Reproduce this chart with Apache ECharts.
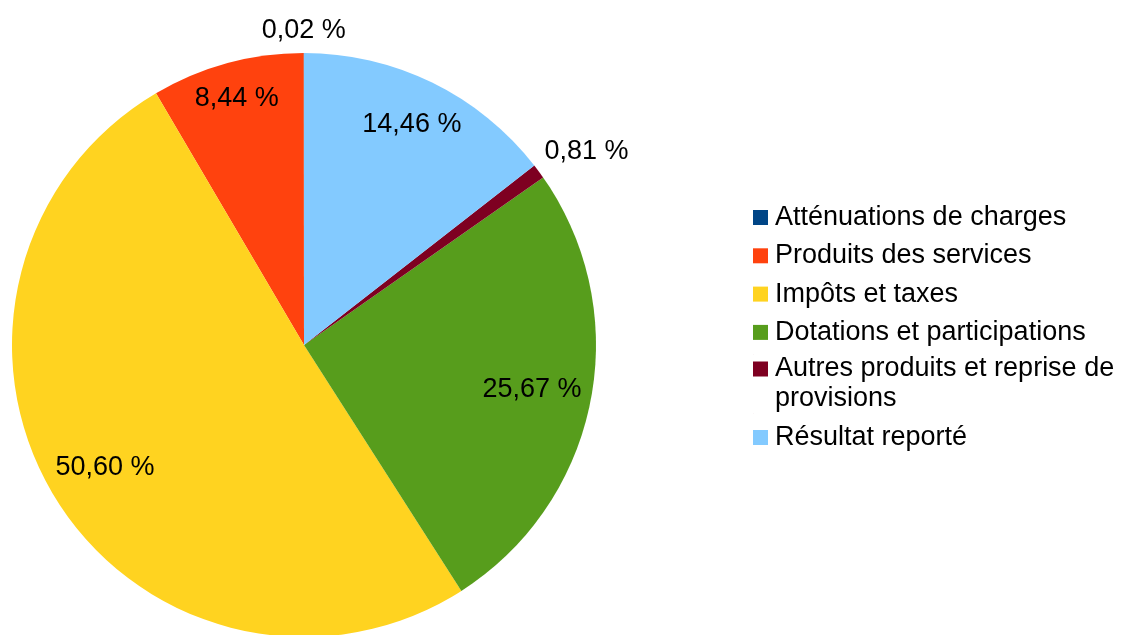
<!DOCTYPE html>
<html>
<head>
<meta charset="utf-8">
<script src="https://cdn.jsdelivr.net/npm/echarts@6/dist/echarts.min.js"></script>
<style>
html,body{margin:0;padding:0;background:#fff;}
#chart{width:1121px;height:635px;}
</style>
</head>
<body>
<div id="chart"></div>
<script>
const categories = [
  'Atténuations de charges',
  'Produits des services',
  'Impôts et taxes',
  'Dotations et participations',
  'Autres produits et reprise de provisions',
  'Résultat reporté'
];
const values = [0.02, 8.44, 50.60, 25.67, 0.81, 14.46];
const colors = ['#004586', '#ff420e', '#ffd320', '#579d1c', '#7e0021', '#83caff'];

const CX = 304, CY = 345, R = 292;
const D_IN = 284;    // farthest corner of an inside label from the centre
const D_OUT = 299;   // anchor distance of outside labels
const FONT = 'Liberation Sans, Arial, sans-serif';
const SMALL = 1;

const chart = echarts.init(document.getElementById('chart'), null, {renderer: 'canvas'});
const data = categories.map((n, i) => ({name: n, value: values[i]}));
const fmt = v => v.toFixed(2).replace('.', ',') + ' %';
const transparent = {color: 'rgba(0,0,0,0)'};
const labelText = {fontFamily: FONT, fontSize: 27, color: '#000', lineHeight: 31};

function dirOf(r) {
  const lx = r.x + r.width / 2, ly = r.y + r.height / 2;
  const dx = lx - CX, dy = ly - CY;
  const len = Math.sqrt(dx * dx + dy * dy) || 1;
  return [dx / len, dy / len];
}

const SQUARE = 'path://M0,0h1v1h-1z';
const SQUARE_TOP = 'path://M0,0h0.01v0.01h-0.01z M0,0.5h1v1h-1z M0,3.99h0.01v0.01h-0.01z';
const legendText = {fontFamily: FONT, fontSize: 27, color: '#000', lineHeight: 30, padding: [0, 0, 0, 2]};
const legendBase = {
  orient: 'vertical', left: 748, itemWidth: 15, itemHeight: 30, itemGap: 8.3,
  symbolKeepAspect: true, selectedMode: false,
  formatter: n => n.replace('reprise de ', 'reprise de\n'),
  textStyle: legendText
};

const option = {
  animation: false,
  backgroundColor: '#ffffff',
  color: colors,
  legend: [
    Object.assign({}, legendBase, {top: 197.5, icon: SQUARE, data: categories.slice(0, 4)}),
    Object.assign({}, legendBase, {top: 349, itemHeight: 60, icon: SQUARE_TOP, data: categories.slice(4, 5)}),
    Object.assign({}, legendBase, {top: 417.5, icon: SQUARE, data: categories.slice(5)})
  ],
  series: [
    {
      type: 'pie',
      center: [CX, CY],
      radius: R,
      startAngle: 90,
      clockwise: false,
      silent: true,
      label: {show: false},
      labelLine: {show: false},
      data: data.map((d, i) => ({...d, itemStyle: {color: colors[i]}}))
    },
    {
      type: 'pie',
      center: [CX, CY],
      radius: [150, R],
      startAngle: 90,
      clockwise: false,
      silent: true,
      avoidLabelOverlap: false,
      itemStyle: transparent,
      label: Object.assign({show: true, position: 'inside',
        formatter: p => p.value >= SMALL ? fmt(p.value) : ''}, labelText),
      labelLine: {show: false},
      labelLayout: function (params) {
        const r = params.labelRect;
        const [ux, uy] = dirOf(r);
        const cx = (ux >= 0 ? 1 : -1) * r.width / 2;
        const cy = (uy >= 0 ? 1 : -1) * r.height / 2;
        const b = ux * cx + uy * cy;
        const c = cx * cx + cy * cy - D_IN * D_IN;
        const s = -b + Math.sqrt(b * b - c);
        return {x: CX + s * ux, y: CY + s * uy};
      },
      data: data
    },
    {
      type: 'pie',
      center: [CX, CY],
      radius: [R, R + 16],
      startAngle: 90,
      clockwise: false,
      silent: true,
      avoidLabelOverlap: false,
      itemStyle: transparent,
      label: Object.assign({show: true, position: 'inside',
        formatter: p => p.value < SMALL ? fmt(p.value) : ''}, labelText),
      labelLine: {show: false},
      labelLayout: function (params) {
        const r = params.labelRect;
        const [ux, uy] = dirOf(r);
        const eps = 0.15;
        const ax = CX + D_OUT * ux, ay = CY + D_OUT * uy;
        const nx = ax + (ux > eps ? r.width / 2 : ux < -eps ? -r.width / 2 : 0);
        const ny = ay + (uy > eps ? r.height / 2 : uy < -eps ? -r.height / 2 : 0);
        return {x: nx, y: ny};
      },
      data: data
    }
  ]
};
chart.setOption(option);
</script>
</body>
</html>
